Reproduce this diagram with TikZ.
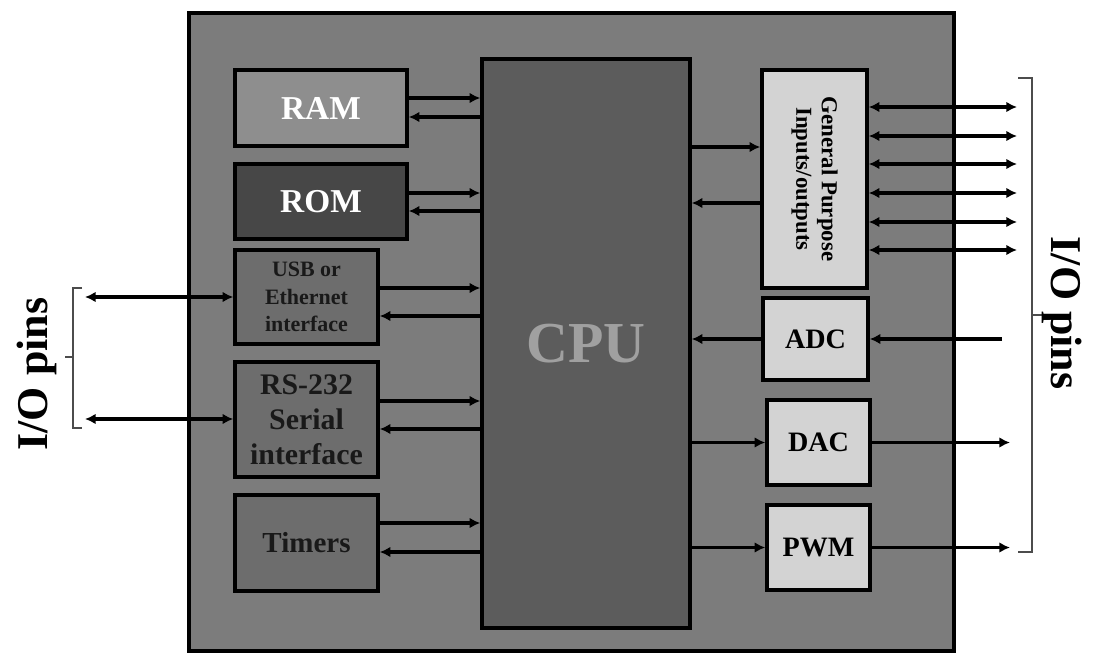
\documentclass[tikz,border=0pt]{standalone}
\usepackage{fontspec}
\setmainfont{Liberation Serif}
\usetikzlibrary{positioning, arrows.meta}

\definecolor{chipgray}{HTML}{7C7C7C}
\definecolor{ramgray}{HTML}{8E8E8E}
\definecolor{romgray}{HTML}{474747}
\definecolor{portgray}{HTML}{6D6D6D}
\definecolor{cpugray}{HTML}{5C5C5C}
\definecolor{cputext}{HTML}{A0A0A0}
\definecolor{periphgray}{HTML}{D3D3D3}

\tikzset{
  block/.style={draw,rectangle,line width=2pt,inner sep=0pt,align=center},
  bus/.style={line width=1.9pt,-{Latex[length=6pt,width=6pt]}},
  bibus/.style={line width=1.9pt,{Latex[length=6pt,width=6pt]}-{Latex[length=6pt,width=6pt]}},
  brace/.style={gray!60!black,line width=0.6pt},
  pinlabel/.style={font=\fontsize{25}{28}\selectfont\bfseries}
}

\begin{document}
\begin{tikzpicture}[x=0.02cm,y=-0.02cm]
  \useasboundingbox (0,0) rectangle (1096,656);
  % chip outline
  \node[block,fill=chipgray,line width=2.4pt,minimum width=15.3cm,minimum height=12.76cm]
       (chip) at (571.5,332){};
  % left column
  \node[block,fill=ramgray,text=white,minimum width=3.44cm,minimum height=1.52cm,
        font=\fontsize{19}{22}\selectfont\bfseries] (ram) at (321,108){RAM};
  \node[block,fill=romgray,text=white,minimum width=3.44cm,minimum height=1.5cm,
        font=\fontsize{19}{22}\selectfont\bfseries] (rom) at (321,201.5){ROM};
  \node[block,fill=portgray,text=black!90,minimum width=2.86cm,minimum height=1.88cm,
        font=\fontsize{12.5}{15.5}\selectfont\bfseries] (usb) at (306.5,297){USB or\\Ethernet\\interface};
  \node[block,fill=portgray,text=black!90,minimum width=2.86cm,minimum height=2.3cm,
        font=\fontsize{17}{20}\selectfont\bfseries] (serial) at (306.5,419.5){RS-232\\Serial\\interface};
  \node[block,fill=portgray,text=black!90,minimum width=2.86cm,minimum height=1.92cm,
        font=\fontsize{16.5}{19}\selectfont\bfseries] (timers) at (306.5,543){Timers};
  % processor
  \node[block,fill=cpugray,text=cputext,minimum width=4.16cm,minimum height=11.38cm,
        font=\fontsize{33}{36}\selectfont\bfseries] (cpu) at (586,343.5){CPU};
  % right column
  \node[block,fill=periphgray,minimum width=2.1cm,minimum height=4.36cm] (gpio) at (814.5,179){};
  \node[rotate=-90,align=center,font=\fontsize{13}{14.5}\selectfont\bfseries]
       (gpiotext) at (gpio.center){General Purpose\\Inputs/outputs};
  \node[block,fill=periphgray,minimum width=2.1cm,minimum height=1.64cm,
        font=\fontsize{16}{19}\selectfont\bfseries] (adc) at (815.5,339){ADC};
  \node[block,fill=periphgray,minimum width=2.06cm,minimum height=1.7cm,
        font=\fontsize{16}{19}\selectfont\bfseries] (dac) at (818.5,442.5){DAC};
  \node[block,fill=periphgray,minimum width=2.06cm,minimum height=1.7cm,
        font=\fontsize{16}{19}\selectfont\bfseries] (pwm) at (818.5,547.5){PWM};

  % memory and port buses
  \draw[bus] (ram.east |- 0,98)     -- (cpu.west |- 0,98);
  \draw[bus] (cpu.west |- 0,117)    -- (ram.east |- 0,117);
  \draw[bus] (rom.east |- 0,193)    -- (cpu.west |- 0,193);
  \draw[bus] (cpu.west |- 0,211)    -- (rom.east |- 0,211);
  \draw[bus] (usb.east |- 0,288)    -- (cpu.west |- 0,288);
  \draw[bus] (cpu.west |- 0,316)    -- (usb.east |- 0,316);
  \draw[bus] (serial.east |- 0,401) -- (cpu.west |- 0,401);
  \draw[bus] (cpu.west |- 0,429)    -- (serial.east |- 0,429);
  \draw[bus] (timers.east |- 0,523) -- (cpu.west |- 0,523);
  \draw[bus] (cpu.west |- 0,552)    -- (timers.east |- 0,552);
  % peripheral buses
  \draw[bus] (cpu.east |- 0,147) -- (gpio.west |- 0,147);
  \draw[bus] (gpio.west |- 0,203) -- (cpu.east |- 0,203);
  \draw[bus] (adc.west) -- (cpu.east |- adc.west);
  \draw[bus] (cpu.east |- dac.west) -- (dac.west);
  \draw[bus] (cpu.east |- pwm.west) -- (pwm.west);

  % external pins
  \coordinate (adcin) at (1002,339);
  \coordinate (dacout) at (1010,442.5);
  \coordinate (pwmout) at (1010,547.5);
  \coordinate (usbpin) at (85,297);
  \coordinate (serialpin) at (85,419);
  \foreach \y in {107,136,164,193,222,250}
    \draw[bibus] (gpio.east |- 0,\y) -- (1017,\y);
  \draw[bus] (adcin) -- (adc.east);
  \draw[bus] (dac.east) -- (dacout);
  \draw[bus] (pwm.east) -- (pwmout);
  \draw[bibus] (usbpin) -- (usb.west |- usbpin);
  \draw[bibus] (serialpin) -- (serial.west |- serialpin);

  % pin brackets
  \draw[brace] (1018,78) -- (1032,78) -- (1032,552) -- (1018,552);
  \draw[brace] (1032,315) -- (1043,315);
  \draw[brace] (82,288) -- (73,288) -- (73,428) -- (82,428);
  \draw[brace] (73,357) -- (65,357);
  \node[pinlabel,rotate=-90] (rightpins) at (1062,313){I/O pins};
  \node[pinlabel,rotate=90] (leftpins) at (37,374){I/O pins};
\end{tikzpicture}
\end{document}
